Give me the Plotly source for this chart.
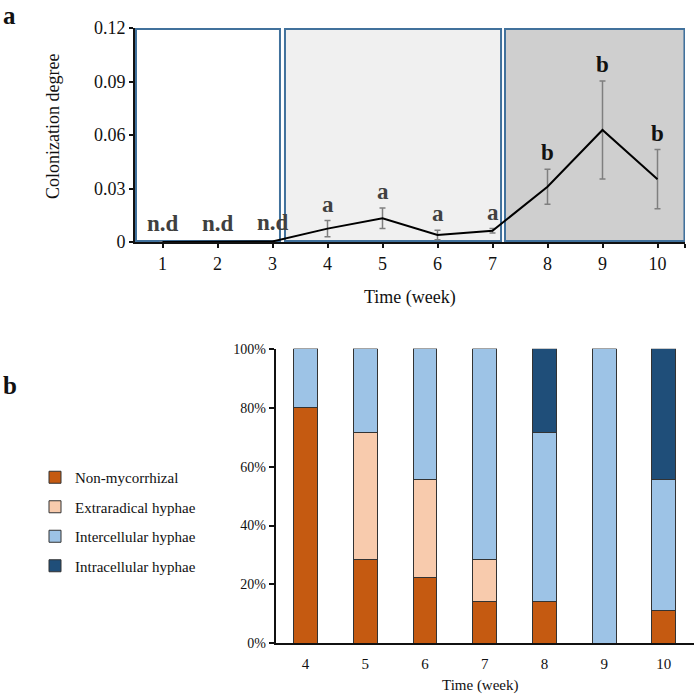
import plotly.graph_objects as go

# ---------------- data: panel a ----------------
weeks_a = [1, 2, 3, 4, 5, 6, 7, 8, 9, 10]
colonization = [0.0, 0.0, 0.0003, 0.0075, 0.0133, 0.0039, 0.0063, 0.031, 0.0628, 0.0352]
colonization_err = [None, None, None, 0.0045, 0.0057, 0.0027, 0.0012, 0.0098, 0.0275, 0.0166]
stat_letters = ["n.d", "n.d", "n.d", "a", "a", "a", "a", "b", "b", "b"]
phase_bounds = [(0.518, 3.136), (3.227, 7.155), (7.227, 10.49)]
y_ticks_a = [0, 0.03, 0.06, 0.09, 0.12]
y_ticktext_a = ["0", "0.03", "0.06", "0.09", "0.12"]

# ---------------- data: panel b ----------------
weeks_b = [4, 5, 6, 7, 8, 9, 10]
non_mycorrhizal = [0.80, 0.2857, 0.2222, 0.1429, 0.1429, 0.0, 0.1111]
extraradical = [0.0, 0.4286, 0.3333, 0.1429, 0.0, 0.0, 0.0]
intercellular = [0.20, 0.2857, 0.4444, 0.7143, 0.5714, 1.0, 0.4444]
intracellular = [0.0, 0.0, 0.0, 0.0, 0.2857, 0.0, 0.4444]
series_names = ["Non-mycorrhizal", "Extraradical hyphae", "Intercellular hyphae", "Intracellular hyphae"]
series_colors = ["#C55A11", "#F8CBAD", "#9DC3E6", "#1F4E79"]

W, H = 694, 695
FONT = "Liberation Serif, Times New Roman, serif"

def px_x(p):
    return p / W

def px_y(p):
    return 1 - p / H

fig = go.Figure()

# panel a line with error bars
fig.add_trace(go.Scatter(
    x=weeks_a, y=colonization, mode="lines",
    line=dict(color="#000000", width=2),
    error_y=dict(type="data", array=colonization_err, visible=True,
                 color="#7f7f7f", thickness=1.5, width=3),
    xaxis="x", yaxis="y", showlegend=False, hoverinfo="skip",
))

# panel b stacked bars
for name, vals, col in zip(series_names,
                           [non_mycorrhizal, extraradical, intercellular, intracellular],
                           series_colors):
    fig.add_trace(go.Bar(
        x=weeks_b, y=vals, name=name, width=0.4,
        marker=dict(color=col, line=dict(color="#333333", width=1)),
        xaxis="x2", yaxis="y2", legendgroup=name,
    ))

# phase boxes
fills = ["#FFFFFF", "#F0F0F0", "#CFCFCF"]
for (x0, x1), fc in zip(phase_bounds, fills):
    fig.add_shape(type="rect", xref="x", yref="y", x0=x0, x1=x1, y0=0.0005, y1=0.1195,
                  fillcolor=fc, line=dict(color="#41719C", width=2), layer="below")

# statistical letters
annotations = []
for wk, val, err, lab in zip(weeks_a, colonization, colonization_err, stat_letters):
    top = val + (err or 0)
    annotations.append(dict(
        x=wk, y=top, xref="x", yref="y", text="<b>" + lab + "</b>", showarrow=False,
        xanchor="center", yanchor="bottom", yshift=4 if lab == "n.d" else 2,
        font=dict(family=FONT, size=23, color="#111111" if lab == "b" else "#404040"),
    ))

# axis titles and panel letters
annotations += [
    dict(x=px_x(53), y=px_y(126), xref="paper", yref="paper", text="Colonization degree",
         textangle=-90, showarrow=False, xanchor="center", yanchor="middle",
         font=dict(family=FONT, size=18, color="#111111")),
    dict(x=px_x(410), y=px_y(298), xref="paper", yref="paper", text="Time (week)",
         showarrow=False, xanchor="center", yanchor="middle",
         font=dict(family=FONT, size=18, color="#111111")),
    dict(x=px_x(480), y=px_y(685), xref="paper", yref="paper", text="Time (week)",
         showarrow=False, xanchor="center", yanchor="middle",
         font=dict(family=FONT, size=15, color="#111111")),
    dict(x=px_x(1), y=px_y(0), xref="paper", yref="paper", text="<b>a</b>", xanchor="left",
         yanchor="top", showarrow=False, font=dict(family=FONT, size=25, color="#111111")),
    dict(x=px_x(1), y=px_y(370), xref="paper", yref="paper", text="<b>b</b>", xanchor="left",
         yanchor="top", showarrow=False, font=dict(family=FONT, size=25, color="#111111")),
]

fig.update_layout(
    width=W, height=H,
    margin=dict(l=0, r=0, t=0, b=0),
    paper_bgcolor="white", plot_bgcolor="rgba(0,0,0,0)",
    barmode="stack",
    font=dict(family=FONT, color="#111111"),
    annotations=annotations,
    xaxis=dict(domain=[px_x(135), px_x(685)], range=[0.5, 10.5], anchor="y",
               tickvals=weeks_a + [10.5], ticktext=[str(w) for w in weeks_a] + [""],
               ticks="outside", ticklen=4, tickwidth=1.5, tickcolor="#111111",
               showline=True, linecolor="#111111", linewidth=2, showgrid=False,
               zeroline=False, tickfont=dict(size=18, family=FONT), automargin=False),
    yaxis=dict(domain=[px_y(242), px_y(28)], range=[0, 0.12], anchor="x",
               tickvals=y_ticks_a, ticktext=y_ticktext_a,
               ticks="outside", ticklen=4, tickwidth=1.5, tickcolor="#111111",
               showline=True, linecolor="#111111", linewidth=2, showgrid=False,
               zeroline=False, tickfont=dict(size=18, family=FONT), automargin=False),
    xaxis2=dict(domain=[px_x(275.7), px_x(693.7)], range=[3.5, 10.5], anchor="y2",
                tickvals=weeks_b, ticks="", showline=True, linecolor="#111111",
                linewidth=2, showgrid=False, zeroline=False, ticklabelstandoff=6,
                tickfont=dict(size=15, family=FONT), automargin=False),
    yaxis2=dict(domain=[px_y(643.3), px_y(348.8)], range=[0, 1], anchor="x2",
                tickvals=[0, 0.2, 0.4, 0.6, 0.8, 1.0], tickformat=".0%",
                ticks="outside", ticklen=5, tickwidth=1.5, tickcolor="#111111",
                showline=True, linecolor="#111111", linewidth=2, showgrid=False,
                zeroline=False, tickfont=dict(size=14, family=FONT), automargin=False),
    legend=dict(x=px_x(35), y=px_y(461), xanchor="left", yanchor="top",
                traceorder="grouped", tracegroupgap=7, itemwidth=30,
                font=dict(family=FONT, size=15, color="#111111"),
                bgcolor="rgba(0,0,0,0)"),
)

fig.write_html("out.html")
